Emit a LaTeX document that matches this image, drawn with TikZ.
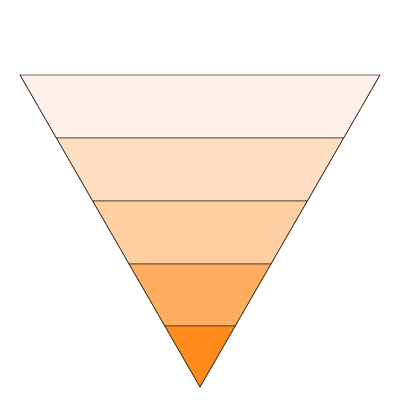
\documentclass[tikz,border=0pt]{standalone}
\usepackage{xcolor}
\usepackage{tikz}
\usetikzlibrary{calc}
\definecolor{ink}{HTML}{3A2E28}
\definecolor{lvla}{HTML}{FFF0EC}
\definecolor{lvlb}{HTML}{FFDFC3}
\definecolor{lvlc}{HTML}{FFCFA1}
\definecolor{lvld}{HTML}{FFAD5E}
\definecolor{lvle}{HTML}{FF8C1A}
\tikzset{
  band/.style={draw=ink,line width=0.6pt,line join=miter},
}
\begin{document}
\begin{tikzpicture}[x=0.025cm,y=-0.025cm]
  \useasboundingbox (0,0) rectangle (400,400);
  % half width of the funnel at height y: (387-y)*180/312
  \foreach \ya/\yb/\col in {75/138/lvla,138/201/lvlb,201/264/lvlc,264/326/lvld,326/387/lvle}{
    \pgfmathsetmacro{\wa}{(387-\ya)*0.576923}
    \pgfmathsetmacro{\wb}{(387-\yb)*0.576923}
    \draw[band,fill=\col] (200-\wa,\ya) -- (200+\wa,\ya) -- (200+\wb,\yb) -- (200-\wb,\yb) -- cycle;
  }
\end{tikzpicture}
\end{document}
